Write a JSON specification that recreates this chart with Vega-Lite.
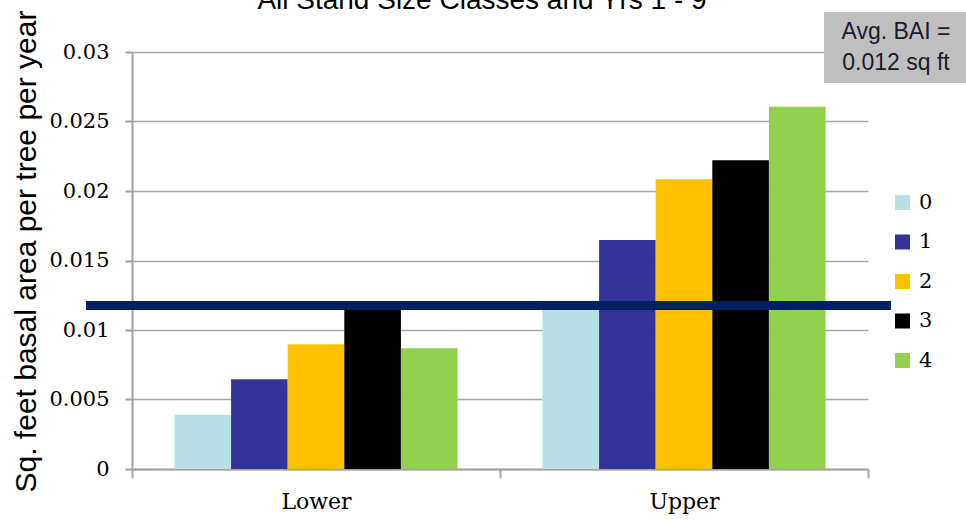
{
  "$schema": "https://vega.github.io/schema/vega-lite/v6.json",
  "width": 736,
  "height": 417,
  "autosize": "none",
  "padding": {"left": 132, "top": 52, "right": 98, "bottom": 52},
  "background": "white",
  "title": {
    "text": "All Stand Size Classes and Yrs 1 - 9",
    "font": "Liberation Sans",
    "fontSize": 28,
    "fontWeight": "normal",
    "color": "#000000",
    "anchor": "middle",
    "frame": "group",
    "dx": -18,
    "dy": 5,
    "offset": 0
  },
  "config": {
    "view": {"stroke": null},
    "axis": {"labelColor": "#000000", "titleColor": "#000000"}
  },
  "layer": [
    {
      "data": {
        "values": [
          {"group": "Lower", "cls": "0", "value": 0.0039},
          {"group": "Lower", "cls": "1", "value": 0.00645},
          {"group": "Lower", "cls": "2", "value": 0.00897},
          {"group": "Lower", "cls": "3", "value": 0.0118},
          {"group": "Lower", "cls": "4", "value": 0.00868},
          {"group": "Upper", "cls": "0", "value": 0.0121},
          {"group": "Upper", "cls": "1", "value": 0.01647},
          {"group": "Upper", "cls": "2", "value": 0.02084},
          {"group": "Upper", "cls": "3", "value": 0.02221},
          {"group": "Upper", "cls": "4", "value": 0.02607}
        ]
      },
      "mark": {"type": "bar", "strokeWidth": 0},
      "encoding": {
        "x": {
          "field": "group",
          "type": "nominal",
          "scale": {"paddingInner": 0, "paddingOuter": 0},
          "axis": {
            "title": null,
            "labelAngle": 0,
            "labelFont": "DejaVu Serif",
            "labelFontSize": 22,
            "labelPadding": 13,
            "tickBand": "extent",
            "tickSize": 9,
            "tickWidth": 2,
            "tickColor": "#a0a0a0",
            "domainColor": "#a0a0a0",
            "domainWidth": 2,
            "grid": false
          }
        },
        "xOffset": {"field": "cls", "type": "nominal", "scale": {"paddingInner": 0, "paddingOuter": 0.75}},
        "y": {
          "field": "value",
          "type": "quantitative",
          "scale": {"domain": [0, 0.03], "nice": false},
          "axis": {
            "values": [0, 0.005, 0.01, 0.015, 0.02, 0.025, 0.03],
            "format": ".3~f",
            "title": "Sq. feet basal area per tree per year",
            "titleFont": "Liberation Sans",
            "titleFontSize": 30,
            "titleFontWeight": "normal",
            "titleAlign": "left",
            "titleBaseline": "middle",
            "titleAngle": 270,
            "titleX": -106,
            "titleY": 440,
            "labelFont": "DejaVu Serif",
            "labelFontSize": 21,
            "labelPadding": 16,
            "tickSize": 7,
            "tickWidth": 2,
            "tickColor": "#a0a0a0",
            "domainColor": "#a0a0a0",
            "domainWidth": 2,
            "grid": true,
            "gridColor": "#a6a6a6",
            "gridWidth": 1.5
          }
        },
        "color": {
          "field": "cls",
          "type": "nominal",
          "scale": {"domain": ["0", "1", "2", "3", "4"], "range": ["#b9e0e4", "#333399", "#ffc000", "#000000", "#92d050"]},
          "legend": {
            "title": null,
            "orient": "none",
            "legendX": 760,
            "legendY": 140,
            "symbolType": "square",
            "symbolSize": 225,
            "symbolStrokeWidth": 0,
            "labelFont": "DejaVu Serif",
            "labelFontSize": 21,
            "labelColor": "#000000",
            "labelOffset": 6,
            "rowPadding": 17.5
          }
        }
      }
    },
    {
      "data": {"values": [{}]},
      "mark": {"type": "rule", "color": "#002060", "strokeWidth": 9, "clip": false},
      "encoding": {
        "x": {"datum": -0.0625, "type": "quantitative", "scale": {"domain": [0, 1], "nice": false, "zero": false}, "axis": null},
        "x2": {"datum": 1.0313},
        "y": {"datum": 0.01177, "type": "quantitative", "scale": {"domain": [0, 0.03], "nice": false}}
      }
    },
    {
      "data": {"values": [{}]},
      "mark": {"type": "rect", "color": "#bfbfbf", "clip": false},
      "encoding": {
        "x": {"datum": 0.9402, "type": "quantitative", "scale": {"domain": [0, 1], "nice": false, "zero": false}, "axis": null},
        "x2": {"datum": 1.14},
        "y": {"datum": 0.03288, "type": "quantitative", "scale": {"domain": [0, 0.03], "nice": false}},
        "y2": {"datum": 0.02777}
      }
    },
    {
      "data": {"values": [{}]},
      "mark": {"type": "text", "font": "Liberation Sans", "fontSize": 23, "color": "#1a1a2e", "align": "center", "baseline": "middle", "lineHeight": 31, "clip": false},
      "encoding": {
        "x": {"datum": 1.0380, "type": "quantitative", "scale": {"domain": [0, 1], "nice": false, "zero": false}, "axis": null},
        "y": {"datum": 0.03144, "type": "quantitative", "scale": {"domain": [0, 0.03], "nice": false}},
        "text": {"value": ["Avg. BAI =", "0.012 sq ft"]}
      }
    }
  ],
  "resolve": {"scale": {"x": "independent"}}
}
